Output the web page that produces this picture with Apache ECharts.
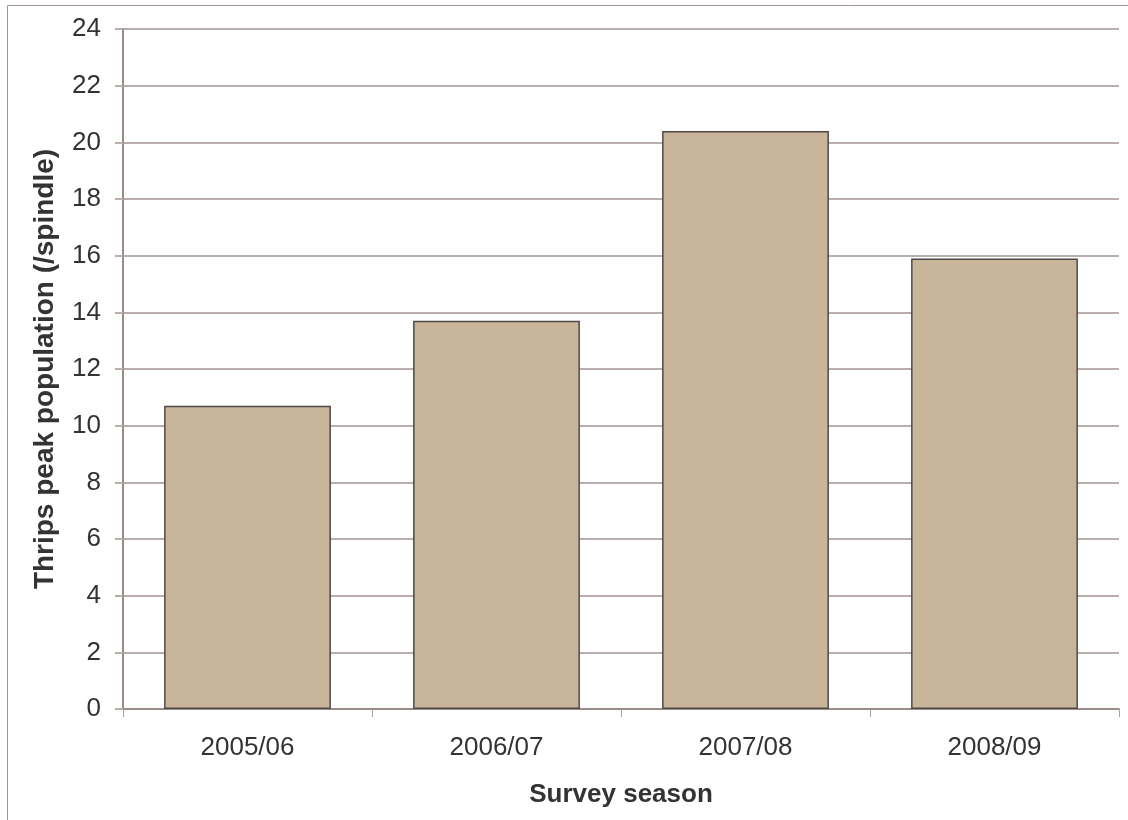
<!DOCTYPE html>
<html>
<head>
<meta charset="utf-8">
<script src="https://cdn.jsdelivr.net/npm/echarts@6/dist/echarts.min.js"></script>
<style>
  html, body { margin: 0; padding: 0; background: #ffffff; }
  #chart { width: 1128px; height: 820px; }
</style>
</head>
<body>
<div id="chart"></div>
<script>
// Survey seasons and thrips peak population per spindle
const seasons = ['2005/06', '2006/07', '2007/08', '2008/09'];
const peakPopulation = [10.7, 13.7, 20.4, 15.9];
const yTicks = { min: 0, max: 24, interval: 2 };

const FONT = '"Liberation Sans", Arial, sans-serif';
const chart = echarts.init(document.getElementById('chart'), null, { renderer: 'canvas' });

chart.setOption({
  backgroundColor: '#ffffff',
  animation: false,
  graphic: [{
    type: 'rect',
    shape: { x: 7.5, y: 5.5, width: 1140, height: 840 },
    style: { fill: 'none', stroke: '#a39591', lineWidth: 1 },
    silent: true
  }],
  grid: { left: 123, right: 9, top: 29, bottom: 111, containLabel: false },
  xAxis: {
    type: 'category',
    data: seasons,
    name: 'Survey season',
    nameLocation: 'middle',
    nameGap: 73,
    nameTextStyle: { fontFamily: FONT, fontSize: 26, fontWeight: 'bold', color: '#333333' },
    axisLine: { lineStyle: { color: '#9a8d89', width: 2 } },
    axisTick: { show: true, length: 8, lineStyle: { color: '#aaa09d', width: 1 } },
    axisLabel: { fontFamily: FONT, fontSize: 26, color: '#333333', margin: 26 },
    splitLine: { show: false }
  },
  yAxis: {
    type: 'value',
    min: yTicks.min, max: yTicks.max, interval: yTicks.interval,
    name: 'Thrips peak population (/spindle)',
    nameLocation: 'middle',
    nameGap: 64,
    nameRotate: 90,
    nameTextStyle: { fontFamily: FONT, fontSize: 28, fontWeight: 'bold', color: '#333333' },
    axisLine: { show: true, lineStyle: { color: '#9a8d89', width: 2 } },
    axisTick: { show: true, length: 8, lineStyle: { color: '#b8afac', width: 2 } },
    axisLabel: { fontFamily: FONT, fontSize: 26, color: '#333333', margin: 22 },
    splitLine: { show: true, lineStyle: { color: '#b8afac', width: 2 } }
  },
  series: [{
    type: 'bar',
    data: peakPopulation,
    barCategoryGap: '33%',
    itemStyle: { color: '#c8b59a', borderColor: '#4f4a48', borderWidth: 1.5 }
  }]
});
</script>
</body>
</html>
